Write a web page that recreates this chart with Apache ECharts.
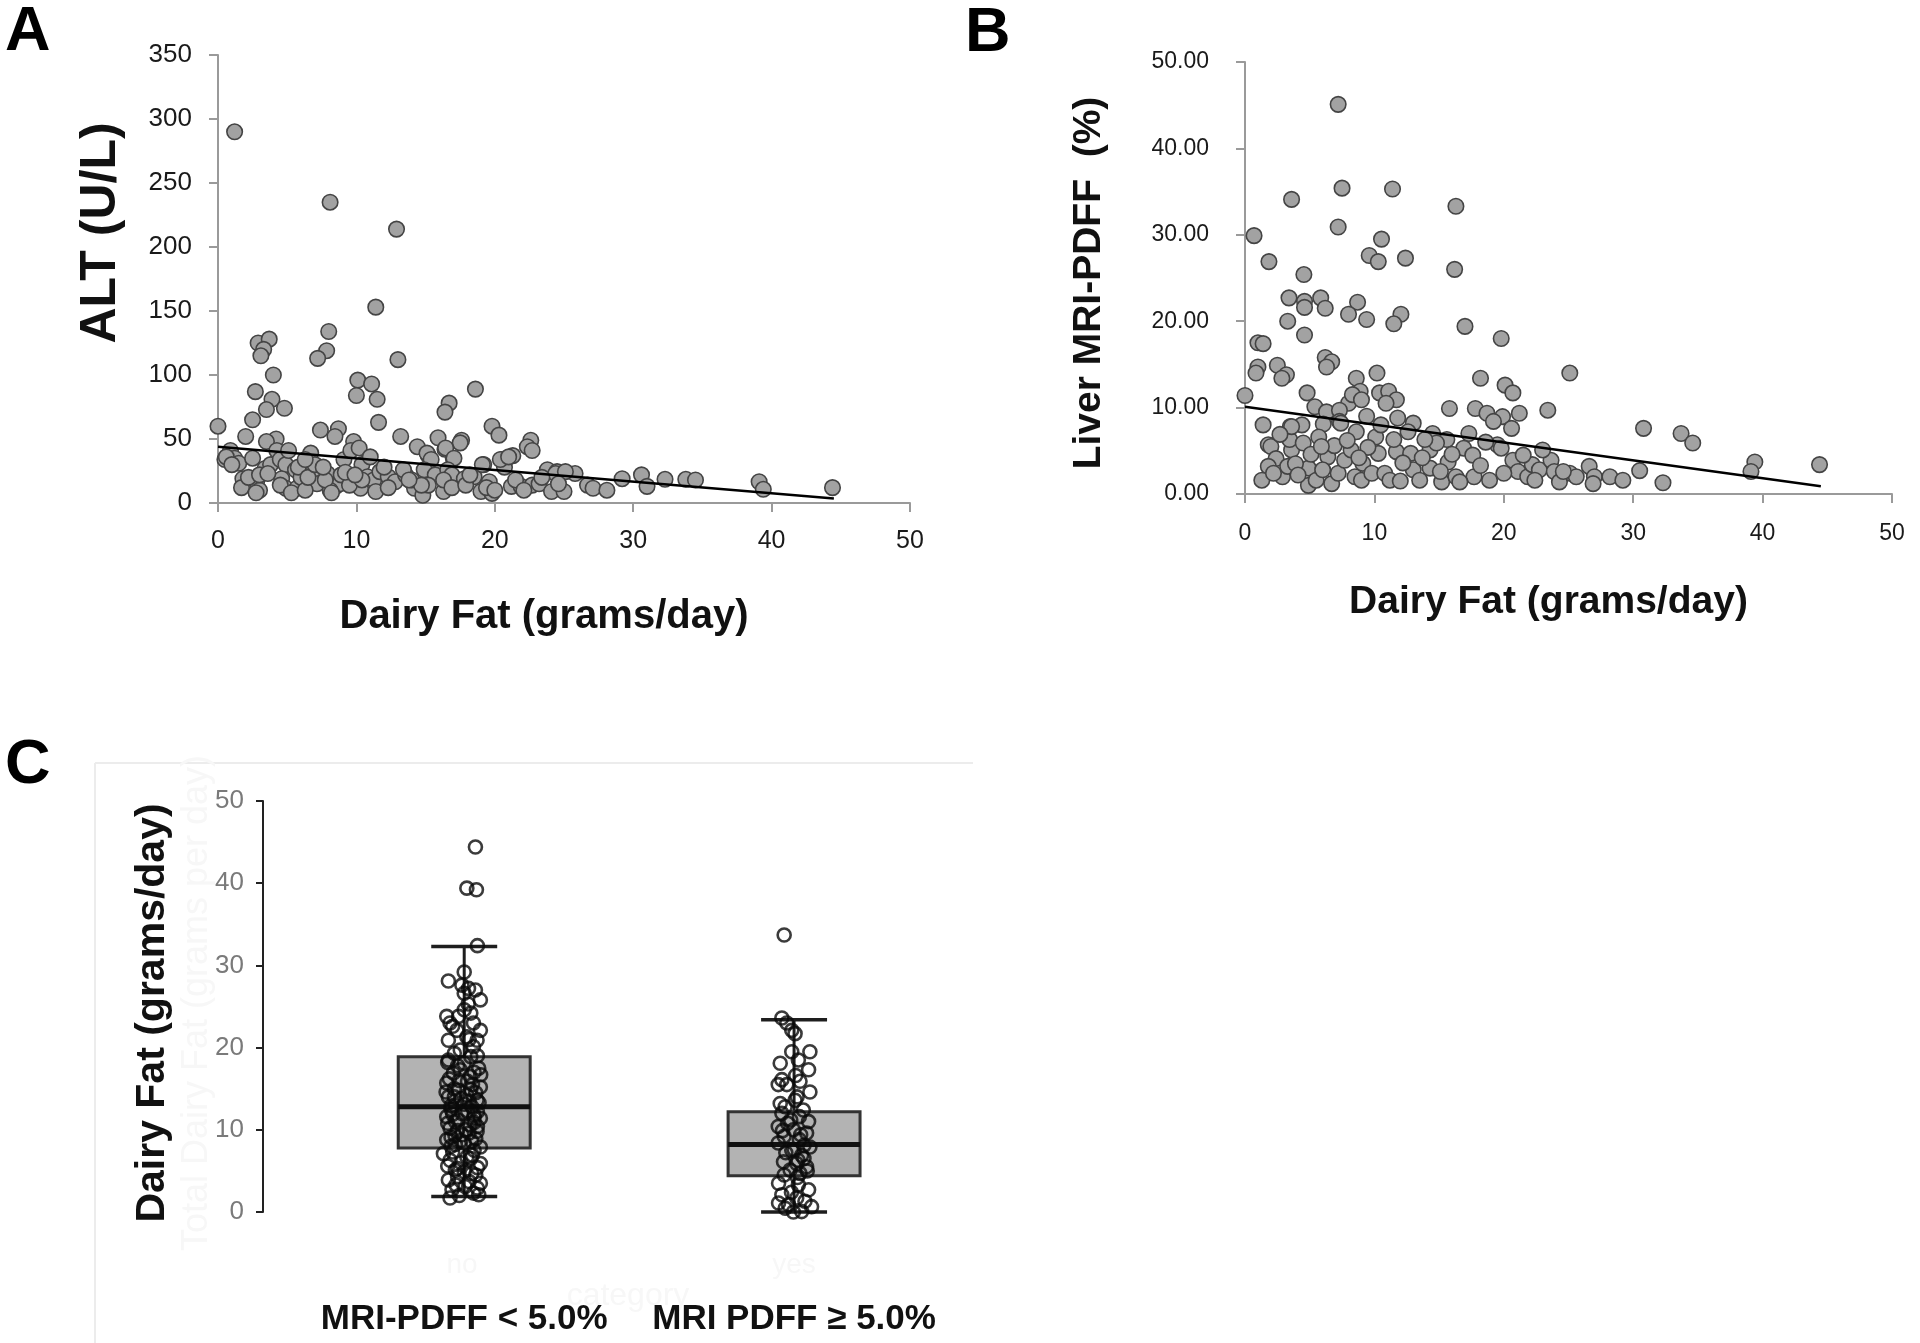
<!DOCTYPE html>
<html><head><meta charset="utf-8">
<script src="https://cdn.jsdelivr.net/npm/echarts@6/dist/echarts.min.js"></script>
<style>html,body{margin:0;padding:0;background:#fff}#main{width:1920px;height:1343px}</style>
</head><body><div id="main"></div>
<script>
// ---------- Panel A: ALT vs dairy fat ----------
const altPoints = [
 [1.2,290],[8.1,235],[12.9,214],[11.4,153],[8.0,134],[7.85,119],[7.2,113],[13.0,112],[2.9,125],[3.7,128],
 [3.3,120],[3.1,115],[4.0,100],[2.7,87],[10.1,96],[11.1,93],[10.0,84],[11.5,81],[18.6,89],[16.7,78],
 [16.4,71],[3.9,81],[3.5,73],[4.8,74],[2.5,65],[11.6,63],[0,60],[2.0,52],[7.4,57],[8.7,58],
 [8.45,52],[13.2,52],[19.8,60],[20.3,53],[15.9,51],[4.2,50],[9.8,48],[17.6,49],[17.5,47],[22.6,49],
 [22.35,44],[22.7,41],[14.4,44],[16.4,42],[15.2,37],[17.0,35],[21.3,37],[20.5,34],[19.2,30],[20.7,28],
 [23.8,26],[24.5,24.5],[25.8,23],[26.7,14],[27.1,11.5],[28.1,10],[29.2,19],[30.6,22],[31.0,13],[32.3,18.5],
 [33.8,18.5],[34.5,18],[39.1,16.6],[39.4,10.7],[44.4,12],
 [0.5,34],[0.9,41],[1.2,35],[1.5,31],[0.6,36],[1.8,19],[2.3,15],[2.8,17],[3.0,10],[3.4,27],
 [3.8,30],[3.5,48],[4.25,41],[4.5,34],[4.9,30],[5.1,41],[4.6,19],[4.9,11.5],[5.6,26],[6.1,15],
 [5.7,11.5],[6.7,39],[6.9,26],[7.15,15],[7.9,23],[8.5,13],[8.8,15],[8.1,10],[9.1,34],[9.6,41],
 [10.2,43],[10.4,30],[10.8,20.5],[11.25,18],[10.3,11.5],[11.0,36],[11.7,24.5],[12.3,20.5],[12.8,16.6],[15.1,39],
 [15.4,34],[14.9,26],[15.7,22],[14.2,11.5],[14.8,6],[15.2,14],[16.45,43],[17.05,35],[16.6,26],[16.9,22],
 [16.3,9],[17.8,19],[18.5,20.5],[19.1,30],[19.6,16.6],[19.0,9],[19.8,7.5],[20.4,34],[21.0,36],[21.2,13],
 [21.9,13],[22.7,14],[23.2,15],[24.1,9],[24.4,23],[25.1,24.5],[25.0,9],
 [1.7,12],[2.2,20],[2.75,8],[3.0,22],[4.5,14],[5.3,8],[6.0,20],[6.3,10],[7.75,18],[8.2,8],
 [8.9,22],[9.5,14],[10.4,18],[11.4,9],[12.3,12],[13.55,22],[14.0,18],[14.7,14],[16.3,18],[16.9,12],
 [17.9,14],[18.2,22],[19.4,12],[20.0,10],[21.5,18],[22.1,10],[23.4,20],[24.6,15],
 [5.8,28],[6.5,20],[7.0,30],[9.2,24],[9.9,22],[12.0,28],[13.4,26],[13.8,18],[6.3,34],[2.5,35],
 [1.0,30],[3.6,23],[7.6,28]
];
const altTrend = [[0,44],[44.5,3.5]];

// ---------- Panel B: liver MRI-PDFF vs dairy fat ----------
const pdffPoints = [
 [7.2,45.1],[7.5,35.4],[11.4,35.3],[3.6,34.1],[16.3,33.3],[0.7,29.9],[7.2,30.9],[10.55,29.5],[9.6,27.6],[10.3,26.9],
 [12.4,27.3],[1.85,26.9],[16.2,26.0],[4.55,25.4],[3.4,22.7],[4.6,22.3],[4.6,21.6],[5.85,22.7],[6.2,21.5],[8.7,22.2],
 [8.0,20.8],[9.4,20.2],[12.05,20.8],[11.5,19.7],[17.0,19.4],[3.3,20.0],[4.6,18.4],[19.8,18.0],[1.0,17.5],[1.4,17.4],
 [2.5,14.9],[3.2,13.8],[2.85,13.4],[1.0,14.7],[0.85,14.0],[6.2,15.8],[6.7,15.3],[6.3,14.7],[10.2,14.0],[25.1,14.0],
 [18.2,13.4],[20.1,12.6],[20.7,11.7],[8.6,13.4],[8.9,11.9],[4.8,11.7],[0,11.4],[10.4,11.7],[11.1,11.9],[11.7,10.9],
 [10.9,10.5],[8.0,10.5],[8.3,11.5],[9.0,10.9],[23.4,9.7],[15.8,9.9],[17.8,9.9],[18.7,9.35],[19.9,8.95],[21.2,9.35],
 [19.2,8.4],[20.6,7.6],[30.8,7.6],[33.7,7.0],[34.6,5.9],[5.4,10.1],[6.3,9.5],[7.3,9.7],[1.4,8.0],[3.5,7.8],
 [4.4,8.0],[6.05,8.1],[7.3,8.4],[13.0,8.2],[11.8,8.8],[14.5,7.0],[15.6,6.3],[17.3,7.0],
 [1.8,5.7],[2.0,5.5],[2.4,4.1],[1.8,3.2],[1.3,1.6],[2.9,2.0],[3.3,3.2],[3.6,5.1],[3.45,6.3],[3.6,7.8],
 [4.5,5.9],[4.9,3.0],[4.9,1.0],[5.7,6.6],[5.5,1.6],[6.4,4.3],[6.7,1.2],[7.2,2.4],[7.7,3.9],[8.2,5.1],
 [8.6,7.2],[7.4,8.2],[8.5,2.0],[9.1,3.55],[9.4,9.0],[9.0,1.6],[9.8,2.4],[10.1,6.6],[10.3,4.7],[10.8,2.4],
 [11.2,1.6],[11.7,4.9],[12.8,4.7],[13.0,2.8],[13.5,1.6],[14.3,5.1],[14.3,3.0],[15.2,1.4],[15.7,3.7],[16.3,2.0],
 [16.9,5.3],[17.6,4.5],[17.7,2.0],[18.9,1.6],[19.5,5.7],[19.8,5.3],[20.7,3.9],[21.1,2.6],[21.85,2.0],[22.2,3.4],
 [22.75,2.8],[23.65,3.9],[23.9,2.6],[25.1,2.4],[24.3,1.4],
 [26.6,3.2],[27.0,2.0],[26.9,1.2],[28.2,2.0],[29.2,1.6],[25.6,2.0],[30.5,2.7],[32.3,1.3],[39.4,3.7],[39.1,2.6],[44.4,3.4],
 [2.2,2.4],[3.9,3.5],[5.1,4.6],[6.0,2.8],[6.9,5.6],[7.9,6.2],[9.5,5.4],[10.5,8.0],[11.5,6.3],[12.2,3.6],
 [12.6,7.2],[13.7,4.2],[14.8,5.9],[15.1,2.6],[16.0,4.6],[16.6,1.4],[18.2,3.3],[18.6,6.0],[20.0,2.4],[21.5,4.5],
 [22.4,1.6],[23.0,5.1],[24.6,2.6],[12.0,1.5],[4.1,2.2],[5.9,5.5],[2.7,6.9],[8.8,4.2],[13.9,6.3]
];
const pdffTrend = [[0,10.1],[44.5,0.9]];

// ---------- Panel C: dairy fat by MRI-PDFF group ----------
const groupLabels = ['MRI-PDFF < 5.0%', 'MRI PDFF \u2265 5.0%'];
const groupPositions = [1, 2];
// [position, lower whisker, Q1, median, Q3, upper whisker]
const boxStats = [[1, 1.9, 7.8, 12.8, 18.9, 32.3], [2, 0, 4.4, 8.2, 12.2, 23.4]];
const lowValues = [44.4,39.4,39.2,32.4,29.2,28.1,27.6,27.2,27.0,25.8,26.6,24.6,23.8,23.8,23.0,23.0,22.1,22.1,21.3,20.9,20.9,19.7,20.1,
 18.5,18.1,17.5,16.9,16.5,15.7,15.2,14.8,14.2,14.0,13.6,13.0,12.8,12.0,11.6,11.4,11.0,10.6,10.2,9.8,9.4,8.8,8.6,8.2,7.9,
 18.9,17.8,17.0,16.2,15.9,15.0,14.5,13.8,13.3,12.5,12.3,11.8,11.2,10.8,10.4,9.9,9.6,9.1,8.9,8.4,19.3,16.7,14.6,13.1,11.9,
 7.1,6.3,6.7,5.9,5.1,4.7,3.9,3.5,3.1,2.7,2.3,1.7,2.1,7.5,6.0,5.4,4.3,3.7,2.9,2.0,7.3,5.6,4.5,
 24.2,22.6,21.0,19.0,17.3,15.5,14.0,12.2,10.0,8.0,6.5,4.9,3.3,25.3,18.2,13.5,11.5,9.3,
 16.0,14.9,12.9,10.9,8.7,6.9,5.3];
const lowJitter = [0.034,0.008,0.037,0.04,0.0,-0.048,-0.007,0.013,0.034,0.049,0.0,0.0,-0.017,-0.053,-0.043,0.028,0.049,-0.022,0.008,-0.048,0.039,-0.012,0.028,
 -0.048,0.0,0.044,-0.033,0.018,-0.053,0.049,-0.017,0.008,-0.048,0.039,-0.027,0.023,-0.007,-0.053,0.049,-0.027,0.018,-0.043,0.039,-0.007,-0.053,0.023,-0.027,0.049,
 0.02,-0.02,0.03,-0.045,0.01,-0.03,0.035,-0.01,0.045,-0.04,0.01,0.03,-0.02,-0.05,0.04,-0.02,0.015,-0.04,0.035,0.0,-0.03,0.05,-0.055,0.0,-0.035,
 -0.063,-0.043,0.008,0.049,-0.027,0.023,-0.048,0.049,0.003,-0.037,0.028,-0.043,0.044,0.03,-0.01,0.04,-0.02,0.015,0.04,-0.015,-0.035,-0.05,0.035,
 0.02,-0.035,0.015,0.04,-0.012,0.025,-0.03,0.04,0.005,-0.04,0.02,0.0,-0.025,0.012,-0.05,0.015,0.03,-0.028,
 -0.015,0.02,-0.04,0.03,-0.01,0.025,-0.02];
const highValues = [33.7,23.6,23.0,22.1,21.7,19.5,19.5,18.1,18.5,17.3,16.1,15.5,15.9,14.6,15.5,14.0,13.2,12.8,12.4,13.6,
 12.0,11.6,11.0,10.4,10.0,9.6,9.2,8.8,8.4,7.9,7.5,6.9,6.1,5.9,5.5,5.1,4.7,10.8,9.9,8.1,7.2,6.5,5.0,4.5,
 3.5,3.3,2.7,2.1,1.7,1.1,0.9,1.3,0.65,0,0.05,0.45,
 16.6,11.2,9.4,7.6,6.3,4.2,2.4];
const highJitter = [-0.03,-0.037,-0.022,-0.007,0.003,-0.007,0.048,-0.042,0.013,0.044,-0.037,-0.022,0.018,0.048,-0.048,0.009,-0.042,-0.027,0.028,0.003,
 -0.037,0.016,0.044,-0.048,-0.002,0.038,-0.03,0.016,-0.048,0.048,-0.007,0.023,-0.032,0.008,0.038,-0.012,0.018,-0.02,-0.035,0.03,-0.025,0.03,0.04,-0.03,
 -0.047,0.013,0.044,-0.037,0.008,-0.047,-0.017,0.033,0.053,-0.002,0.023,-0.027,
 0.005,-0.01,0.02,0.0,0.012,0.01,-0.008];

const lowPoints = lowValues.map((v, i) => [groupPositions[0] + lowJitter[i], v]);
const highPoints = highValues.map((v, i) => [groupPositions[1] + highJitter[i], v]);

const SANS = 'Liberation Sans, Arial, sans-serif';
const axisGray = '#9a9a9a';
const ghost = '#f7f7f7';

function scatterX(grid, gap, size, margin) {
  return {
    gridIndex: grid, type: 'value', min: 0, max: 50, interval: 10,
    axisLine: { show: true, lineStyle: { color: axisGray, width: 2 } },
    axisTick: { show: true, length: 9, lineStyle: { color: axisGray, width: 2 } },
    axisLabel: { color: '#1a1a1a', fontSize: grid === 0 ? 25 : 23, fontFamily: SANS, margin: margin },
    splitLine: { show: false },
    name: 'Dairy Fat (grams/day)', nameLocation: 'middle', nameGap: gap,
    nameTextStyle: { fontFamily: SANS, fontWeight: 'bold', fontSize: size, color: '#111', padding: [0, 40, 0, 0] }
  };
}

const chart = echarts.init(document.getElementById('main'), null, { renderer: 'canvas' });
chart.setOption({
  animation: false,
  backgroundColor: '#fff',
  grid: [
    { left: 218, top: 55, width: 692, height: 448 },
    { left: 1245, top: 62, width: 647, height: 432 },
    { left: 263, top: 801, width: 696, height: 411 }
  ],
  xAxis: [
    scatterX(0, 94, 40, 26),
    scatterX(1, 89, 39, 28),
    {
      gridIndex: 2, type: 'value', min: 0.39, max: 2.5,
      axisLine: { show: false }, axisTick: { show: false }, splitLine: { show: false },
      axisLabel: {
        customValues: groupPositions, margin: 90, color: '#111', fontSize: 35,
        fontFamily: SANS, fontWeight: 'bold', hideOverlap: false,
        formatter: v => groupLabels[groupPositions.indexOf(Math.round(v))] || ''
      }
    }
  ],
  yAxis: [
    {
      gridIndex: 0, type: 'value', min: 0, max: 350, interval: 50,
      axisLine: { show: true, lineStyle: { color: axisGray, width: 2 } },
      axisTick: { show: true, length: 9, lineStyle: { color: axisGray, width: 2 } },
      axisLabel: { color: '#1a1a1a', fontSize: 26, fontFamily: SANS, margin: 26 },
      splitLine: { show: false },
      name: 'ALT (U/L)', nameLocation: 'middle', nameGap: 92,
      nameTextStyle: { fontFamily: SANS, fontWeight: 'bold', fontSize: 50, color: '#111', padding: [0, 0, 0, 92] }
    },
    {
      gridIndex: 1, type: 'value', min: 0, max: 50, interval: 10,
      axisLine: { show: true, lineStyle: { color: axisGray, width: 2 } },
      axisTick: { show: true, length: 9, lineStyle: { color: axisGray, width: 2 } },
      axisLabel: { color: '#1a1a1a', fontSize: 23, fontFamily: SANS, margin: 36, formatter: v => v.toFixed(2) },
      splitLine: { show: false },
      name: 'Liver MRI-PDFF  (%)', nameLocation: 'middle', nameGap: 136,
      nameTextStyle: { fontFamily: SANS, fontWeight: 'bold', fontSize: 39, color: '#111', padding: [0, 10, 0, 0] }
    },
    {
      gridIndex: 2, type: 'value', min: 0, max: 50, interval: 10,
      axisLine: { show: true, lineStyle: { color: '#222', width: 2 } },
      axisTick: { show: true, length: 7, lineStyle: { color: '#222', width: 2 } },
      axisLabel: { color: '#7a7a7a', fontSize: 26, fontFamily: SANS, margin: 19 },
      splitLine: { show: false },
      name: 'Dairy Fat (grams/day)', nameLocation: 'middle', nameGap: 90,
      nameTextStyle: { fontFamily: SANS, fontWeight: 'bold', fontSize: 41, color: '#111', padding: [0, 13, 0, 0] }
    }
  ],
  series: [
    {
      type: 'scatter', xAxisIndex: 0, yAxisIndex: 0, data: altPoints, symbolSize: 15.5,
      itemStyle: { color: '#a2a2a2', borderColor: '#444', borderWidth: 1.6, opacity: 1 }
    },
    {
      type: 'line', xAxisIndex: 0, yAxisIndex: 0, data: altTrend, symbol: 'none',
      lineStyle: { color: '#000', width: 2.5 }, z: 5
    },
    {
      type: 'scatter', xAxisIndex: 1, yAxisIndex: 1, data: pdffPoints, symbolSize: 15.5,
      itemStyle: { color: '#a2a2a2', borderColor: '#444', borderWidth: 1.6, opacity: 1 }
    },
    {
      type: 'line', xAxisIndex: 1, yAxisIndex: 1, data: pdffTrend, symbol: 'none',
      lineStyle: { color: '#000', width: 2.5 }, z: 5
    },
    {
      type: 'custom', xAxisIndex: 2, yAxisIndex: 2, data: boxStats, z: 2,
      renderItem: function (params, api) {
        const x = api.value(0);
        const lo = api.coord([x, api.value(1)]);
        const q1 = api.coord([x, api.value(2)]);
        const md = api.coord([x, api.value(3)]);
        const q3 = api.coord([x, api.value(4)]);
        const hi = api.coord([x, api.value(5)]);
        const bw = api.size([0.4, 0])[0];
        const cw = api.size([0.2, 0])[0];
        const ls = { stroke: '#1e1e1e', lineWidth: 3 };
        return {
          type: 'group', children: [
            { type: 'line', shape: { x1: lo[0], y1: lo[1], x2: q1[0], y2: q1[1] }, style: ls },
            { type: 'line', shape: { x1: q3[0], y1: q3[1], x2: hi[0], y2: hi[1] }, style: ls },
            { type: 'line', shape: { x1: lo[0] - cw / 2, y1: lo[1], x2: lo[0] + cw / 2, y2: lo[1] }, style: { stroke: '#1e1e1e', lineWidth: 3.5 } },
            { type: 'line', shape: { x1: hi[0] - cw / 2, y1: hi[1], x2: hi[0] + cw / 2, y2: hi[1] }, style: { stroke: '#1e1e1e', lineWidth: 3.5 } },
            { type: 'rect', shape: { x: q3[0] - bw / 2, y: q3[1], width: bw, height: q1[1] - q3[1] }, style: { fill: '#b3b3b3', stroke: '#333', lineWidth: 3 } },
            { type: 'line', shape: { x1: md[0] - bw / 2, y1: md[1], x2: md[0] + bw / 2, y2: md[1] }, style: { stroke: '#111', lineWidth: 5 } }
          ]
        };
      }
    },
    {
      type: 'scatter', xAxisIndex: 2, yAxisIndex: 2, data: lowPoints, symbolSize: 13, z: 4,
      itemStyle: { color: 'rgba(0,0,0,0)', borderColor: '#0a0a0a', borderWidth: 2.6 }
    },
    {
      type: 'scatter', xAxisIndex: 2, yAxisIndex: 2, data: highPoints, symbolSize: 13, z: 4,
      itemStyle: { color: 'rgba(0,0,0,0)', borderColor: '#0a0a0a', borderWidth: 2.6 }
    }
  ],
  graphic: [
    { type: 'line', shape: { x1: 95, y1: 763, x2: 973, y2: 763 }, style: { stroke: '#ececec', lineWidth: 2 }, silent: true },
    { type: 'line', shape: { x1: 95, y1: 763, x2: 95, y2: 1343 }, style: { stroke: '#ececec', lineWidth: 2 }, silent: true },
    { type: 'text', x: 197, y: 1003, rotation: Math.PI / 2, style: { text: 'Total Dairy Fat (grams per day)', fill: ghost, font: '36px ' + SANS, align: 'center', verticalAlign: 'middle' }, silent: true },
    { type: 'text', x: 462, y: 1265, style: { text: 'no', fill: ghost, font: '28px ' + SANS, align: 'center', verticalAlign: 'middle' }, silent: true },
    { type: 'text', x: 794, y: 1265, style: { text: 'yes', fill: ghost, font: '28px ' + SANS, align: 'center', verticalAlign: 'middle' }, silent: true },
    { type: 'text', x: 628, y: 1296, style: { text: 'category', fill: ghost, font: '32px ' + SANS, align: 'center', verticalAlign: 'middle' }, silent: true },
    { type: 'text', x: 5, y: 33, style: { text: 'A', fill: '#000', font: 'bold 63px ' + SANS, align: 'left', verticalAlign: 'middle' } },
    { type: 'text', x: 965, y: 34, style: { text: 'B', fill: '#000', font: 'bold 63px ' + SANS, align: 'left', verticalAlign: 'middle' } },
    { type: 'text', x: 5, y: 766, style: { text: 'C', fill: '#000', font: 'bold 63px ' + SANS, align: 'left', verticalAlign: 'middle' } }
  ]
});
</script></body></html>
